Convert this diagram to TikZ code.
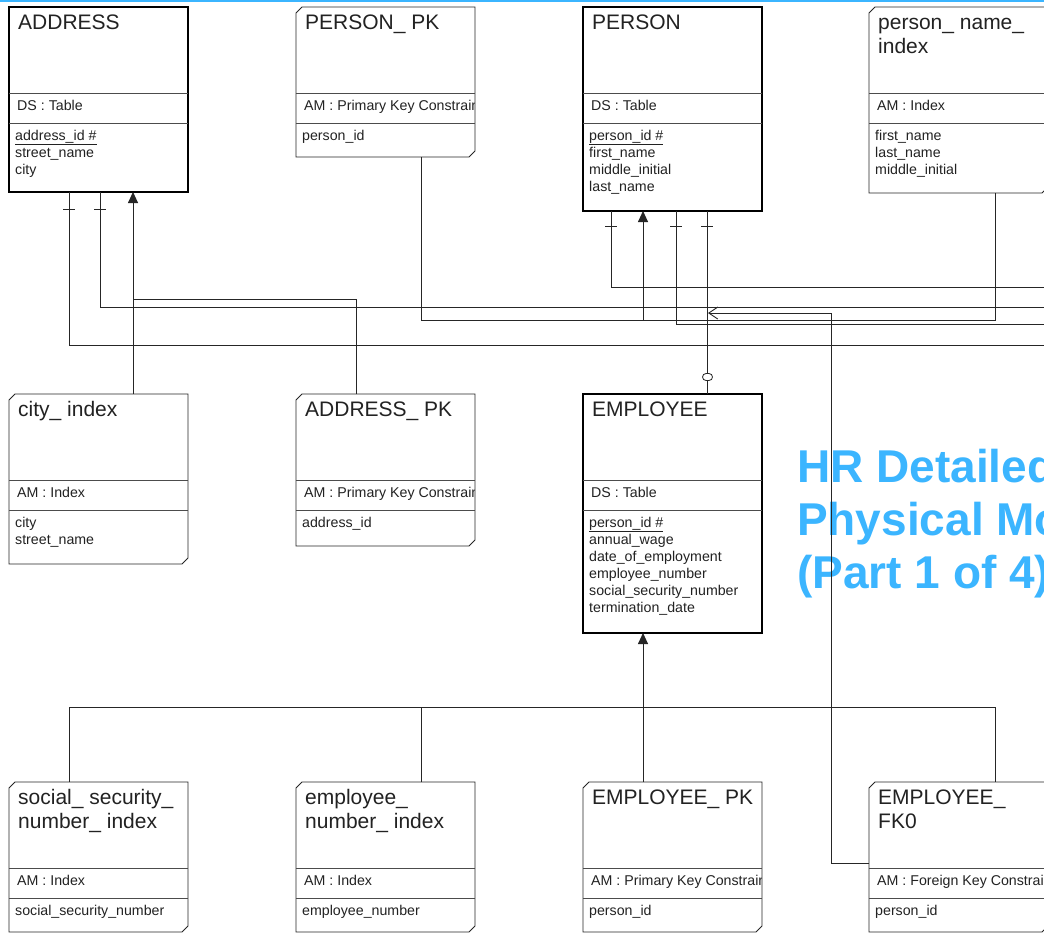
\documentclass[tikz,border=0pt]{standalone}
\usepackage{fontspec}
\setmainfont{Liberation Sans}
\usetikzlibrary{arrows.meta, positioning, calc, shapes.misc}

\definecolor{hrblue}{RGB}{59,181,255}
\definecolor{ink}{RGB}{34,34,34}

% one storage object: header, stereotype row, column list
% #1 style, #2 name, #3 top-left corner, #4 height, #5 title lines,
% #6 stereotype, #7 columns
\newcommand{\entity}[7]{%
  \coordinate (#2-nw) at (#3);
  \node[#1, minimum height=#4, anchor=north] (#2) at ($(#2-nw)+(89.5,0)$) {};
  % keys and indexes get the clipped corners
  \ifdim\boxcut pt>0pt
    \draw[keyline] ([yshift=-\boxcut pt]#2.north west)
      -- ([xshift=\boxcut pt]#2.north west) -- (#2.north east)
      -- ([yshift=\boxcut pt]#2.south east)
      -- ([xshift=-\boxcut pt]#2.south east) -- (#2.south west) -- cycle;
  \fi
  \draw[divider] ($(#2-nw)+(0,86)$) -- ++(179,0);
  \draw[divider] ($(#2-nw)+(0,116)$) -- ++(179,0);
  \foreach \ttl [count=\k] in {#5}
    \node[titletext] at ($(#2-nw)+(9,-2+24*\k)$) {\ttl};
  \begin{scope}
    \clip ($(#2-nw)+(1,86)$) rectangle ++(177,30);
    \node[tagtext] at ($(#2-nw)+(8,103)$) {#6};
  \end{scope}
  \foreach \att [count=\k] in {#7}
    \node[attrtext] at ($(#2-nw)+(6,116+17*\k)$) {\att};
}
\def\boxcut{0}

\begin{document}
\begin{tikzpicture}[x=1pt, y=-1pt,
    boxbase/.style={rectangle, minimum width=179pt, inner sep=0pt,
                    outer sep=0pt},
    tablebox/.style={boxbase, draw=black, line width=2pt, fill=white,
                     /utils/exec={\gdef\boxcut{0}}},
    keybox/.style={boxbase, /utils/exec={\gdef\boxcut{6}}},
    keyline/.style={draw=black!85, line width=0.9pt},
    divider/.style={draw=black!70, line width=0.8pt},
    titletext/.style={anchor=base west, inner sep=0pt, text=ink,
                      font=\fontsize{21}{24}\selectfont},
    tagtext/.style={anchor=base west, inner sep=0pt, text=ink,
                    font=\fontsize{14.2}{17}\selectfont},
    attrtext/.style={tagtext},
    rel/.style={draw=black!85, line width=0.9pt},
    optmark/.style={draw=black!85, line width=0.8pt, fill=white,
                    rounded rectangle, minimum width=10pt,
                    minimum height=7pt, inner sep=0pt},
    headline/.style={anchor=base west, inner sep=0pt, text=hrblue,
                     font=\fontsize{46}{53}\selectfont\bfseries},
    pics/onemark/.style={code={\draw[rel] (-6,0) -- (6,0);}},
    >={Triangle[length=11pt, width=10pt]},
]
\useasboundingbox (0,0) rectangle (1044,932);
\clip (0,0) rectangle (1044,932);
\fill[white] (0,0) rectangle (1044,932);
\draw[hrblue, line width=3pt] (0,0) -- (1044,0);

% --- page heading --------------------------------------------------------
\foreach \hl [count=\k] in {HR Detailed, Physical Model, {(Part 1 of 4)}}
  \node[headline] (head\k) at (797, 429+53*\k) {\hl};

% --- tables, keys and indexes -------------------------------------------
\entity{tablebox}{address}{9,7}{185}{ADDRESS}{DS : Table}
  {\underline{address\_id \#}, street\_name, city}
\entity{keybox}{personpk}{296,7}{150}{PERSON\_ PK}{AM : Primary Key Constraint}
  {person\_id}
\entity{tablebox}{person}{583,7}{204}{PERSON}{DS : Table}
  {\underline{person\_id \#}, first\_name, middle\_initial, last\_name}
\entity{keybox}{nameidx}{869,7}{186}{person\_ name\_, index}{AM : Index}
  {first\_name, last\_name, middle\_initial}
\entity{keybox}{cityidx}{9,394}{170}{city\_ index}{AM : Index}
  {city, street\_name}
\entity{keybox}{addrpk}{296,394}{152}{ADDRESS\_ PK}{AM : Primary Key Constraint}
  {address\_id}
\entity{tablebox}{employee}{583,394}{239}{EMPLOYEE}{DS : Table}
  {\underline{person\_id \#}, annual\_wage, date\_of\_employment,
   employee\_number, social\_security\_number, termination\_date}
\entity{keybox}{ssnidx}{9,782}{150}{social\_ security\_, number\_ index}{AM : Index}
  {social\_security\_number}
\entity{keybox}{empnumidx}{296,782}{150}{employee\_, number\_ index}{AM : Index}
  {employee\_number}
\entity{keybox}{emppk}{583,782}{150}{EMPLOYEE\_ PK}{AM : Primary Key Constraint}
  {person\_id}
\entity{keybox}{empfk0}{869,782}{150}{EMPLOYEE\_, FK0}{AM : Foreign Key Constraint}
  {person\_id}

% links leaving the sheet on the right
\coordinate (eastA) at (1050,287);
\coordinate (eastB) at (1050,307);
\coordinate (eastD) at (1050,324);
\coordinate (eastC) at (1050,345);

% --- ADDRESS --------------------------------------------------------------
\draw[rel] ($(address.south)+(-29.5,0)$) |- (eastC);
\draw[rel] ($(address.south)+(1.5,0)$) |- (eastB);
\pic at ($(address.south)+(-29.5,17)$) {onemark};
\pic at ($(address.south)+(1.5,17)$) {onemark};
\draw[rel,->] ($(cityidx.north)+(34.5,0)$) -- ($(address.south)+(34.5,0)$);
\draw[rel] ($(addrpk.north)+(-29.5,0)$) |- ($(cityidx.north)+(34.5,-95)$);

% --- PERSON ---------------------------------------------------------------
\coordinate (pkjoin) at ($(person.south)+(-29.5,109)$);
\draw[rel] ($(person.south)+(-61.5,0)$) |- (eastA);
\draw[rel,->] ($(personpk.south)+(35.5,0)$) |- (pkjoin)
  -- ($(person.south)+(-29.5,0)$);
\draw[rel] ($(nameidx.south)+(36.5,0)$) |- (pkjoin);
\draw[rel] ($(person.south)+(3.5,0)$) |- (eastD);
\pic at ($(person.south)+(-61.5,15)$) {onemark};
\pic at ($(person.south)+(3.5,15)$) {onemark};
\pic at ($(person.south)+(34.5,15)$) {onemark};

% PERSON -- EMPLOYEE, optional on the employee side
\node[optmark] (optmk) at ($(employee.north)+(35,-17)$) {};
\draw[rel] ($(person.south)+(35,0)$) -- (optmk.north);
\draw[rel] (optmk.south) -- (optmk.south |- employee.north);

% foreign key points back at that relationship
\coordinate (fkjoin) at ($(person.south)+(35.5,102)$);
\draw[rel, -{Straight Barb[length=9pt, width=12pt]}]
  ($(empfk0.west)+(0,6)$) -- ++(-38,0) |- (fkjoin);

% --- EMPLOYEE keys and indexes -------------------------------------------
\draw[rel,->] ($(emppk.north)+(-29.5,0)$) -- ($(employee.south)+(-29.5,0)$);
\draw[rel] ($(ssnidx.north)+(-29.5,0)$) |- ($(empfk0.north)+(36.5,-75)$)
  -- ($(empfk0.north)+(36.5,0)$);
\draw[rel] ($(empnumidx.north)+(35.5,0)$) -- ++(0,-75);
\end{tikzpicture}
\end{document}
